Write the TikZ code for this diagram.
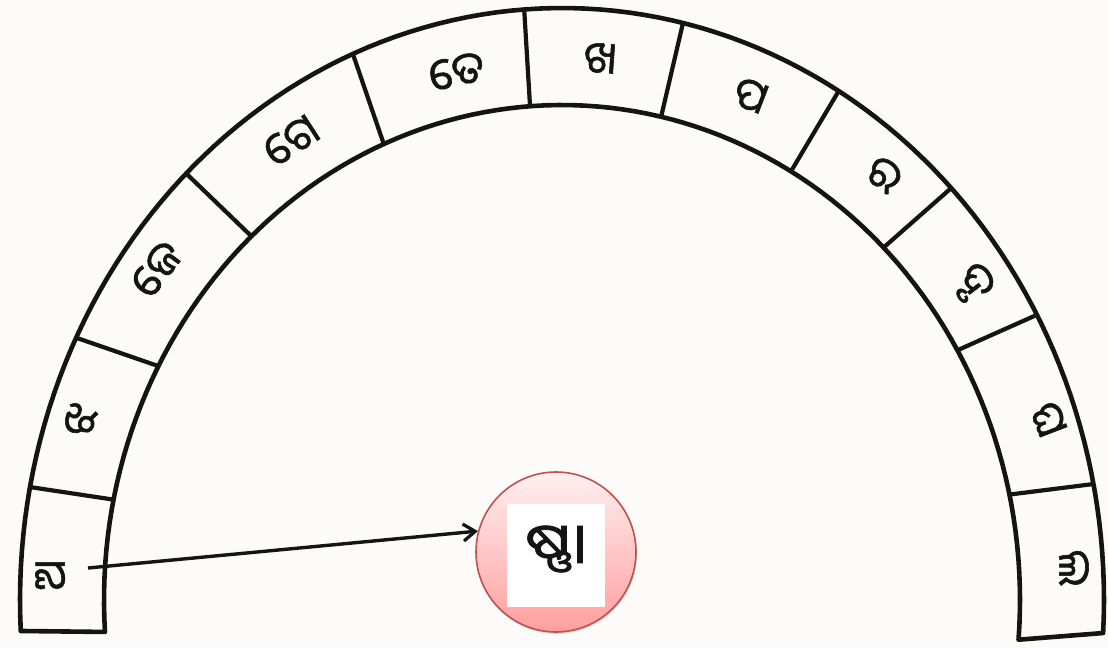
\documentclass[tikz,border=0pt]{standalone}
\usepackage{fontspec}
\usepackage{graphicx}
\newfontfamily\odia[Script=Oriya,FakeBold=1.3]{Noto Sans Oriya UI}
\usetikzlibrary{arrows.meta,shadows}
\definecolor{paper}{HTML}{FCFBF9}
\definecolor{ink}{HTML}{141414}
\definecolor{ringred}{HTML}{C0504D}
\tikzset{
  band/.style={draw=ink,line width=4.6pt,line join=round},
  divider/.style={draw=ink,line width=4.2pt},
  glyph/.style={font=\odia\fontsize{44}{46}\selectfont,inner sep=0pt,text=ink},
  pointer/.style={draw=ink,line width=3.4pt,-{Straight Barb[length=12pt,width=17pt,line width=3.2pt]}},
}
\newcommand{\OX}[1]{562+542*cos(#1)}
\newcommand{\OY}[1]{600-592*sin(#1)}
\newcommand{\IX}[1]{562+458*cos(#1)}
\newcommand{\IY}[1]{600-495*sin(#1)}
\begin{document}
\begin{tikzpicture}[x=1pt,y=-1pt]
\fill[paper] (0,0) rectangle (1108,648);
\useasboundingbox (0,0) rectangle (1108,648);
% band outline
\draw[band] plot[domain=183:-3.2,samples=120] ({\OX{\x}},{\OY{\x}})
  -- plot[domain=-4.6:183.7,samples=120] ({\IX{\x}},{\IY{\x}}) -- cycle;
% dividers
\foreach \a/\b [count=\k] in {169/168.3,153.7/151.8,133.9/132.7,112.7/112.9,94/94,77.1/77.5,59.3/60,44.1/45.4,28.8/30.3,11.3/12.3}{
  \coordinate (o\k) at ({\OX{\a}},{\OY{\a}});
  \coordinate (i\k) at ({\IX{\b}},{\IY{\b}});
  \draw[divider] (o\k) -- (i\k);
}
% letters
\node[glyph,rotate=90]  (s1)  at (52,575)  {ଅ};
\node[glyph,rotate=71]  (s2)  at (82,421)  {ଝ};
\node[glyph,rotate=53]  (s3)  at (158,270) {ଜେ};
\node[glyph,rotate=33]  (s4)  at (292,142) {ଗେ};
\node[glyph,rotate=13]  (s5)  at (457,73)  {ତେ};
\node[glyph,rotate=-4]  (s6)  at (600,60)  {ଖ};
\node[glyph,rotate=-21] (s7)  at (750,97)  {ପ};
\node[glyph,rotate=-38] (s8)  at (883,176) {ର};
\node[glyph,rotate=-53] (s9)  at (973,284) {ଦୃ};
\node[glyph,rotate=-69] (s10) at (1047,420) {ଘ};
\node[glyph,rotate=-90] (s11) at (1072,568) {ଲ};
% centre
\node[circle,minimum size=160pt,draw=ringred,line width=1.6pt,top color=red!6,bottom color=red!38!white,drop shadow={shadow xshift=1pt,shadow yshift=-2pt,opacity=0.25}] (c) at (556,552) {};
\node[fill=white,minimum width=98pt,minimum height=103pt,inner sep=0pt] (sq) at (556,555) {};
\node[font=\odia\fontsize{56}{58}\selectfont,text=ink,inner sep=0pt] (ans) at (556,549) {\scalebox{1.15}[1]{ଷ୍ଣା}};
% arrow
\coordinate (start) at (88,568);
\draw[pointer] (start) -- (c.165);
\end{tikzpicture}
\end{document}
